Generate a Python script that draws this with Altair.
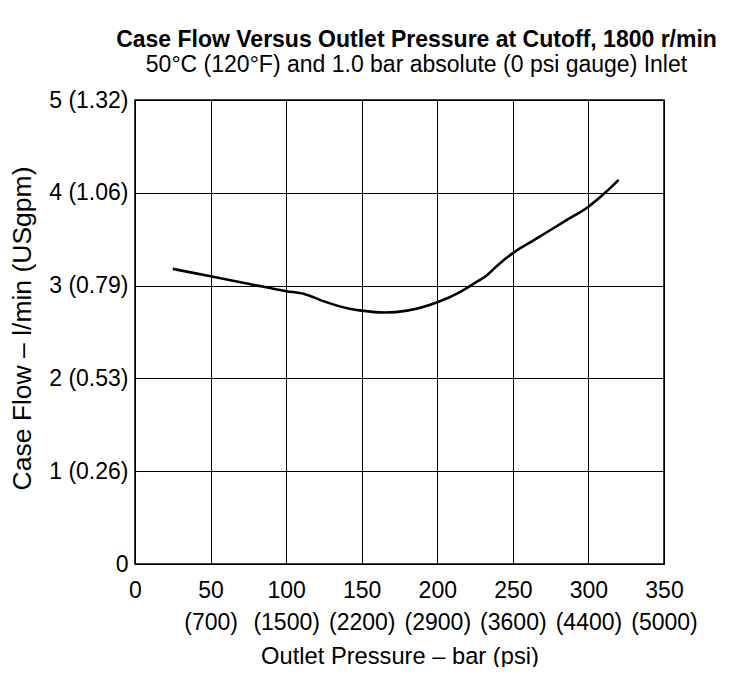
import altair as alt
import pandas as pd

# Curve: outlet pressure (bar) vs case flow (l/min)
pressure_bar = [25, 50, 75, 100, 112, 125, 142, 150, 165, 180, 200, 215, 226, 232, 240, 250, 265, 285, 300, 311, 320]
flow_lpm = [3.18, 3.10, 3.02, 2.94, 2.91, 2.83, 2.75, 2.73, 2.71, 2.73, 2.82, 2.93, 3.04, 3.10, 3.22, 3.35, 3.50, 3.70, 3.85, 4.00, 4.14]

# Axis ticks and their secondary-unit labels
x_ticks = [0, 50, 100, 150, 200, 250, 300, 350]
x_psi = ["", "700", "1500", "2200", "2900", "3600", "4400", "5000"]
y_ticks = [0, 1, 2, 3, 4, 5]
y_gpm = ["", "0.26", "0.53", "0.79", "1.06", "1.32"]

title_text = "Case Flow Versus Outlet Pressure at Cutoff, 1800 r/min"
subtitle_text = "50°C (120°F) and 1.0 bar absolute (0 psi gauge) Inlet"
x_title = "Outlet Pressure – bar (psi)"
y_title = "Case Flow – l/min (USgpm)"

df = pd.DataFrame({"p": pressure_bar, "q": flow_lpm})

psi_arr = "[" + ",".join("'" + s + "'" for s in x_psi) + "]"
gpm_arr = "[" + ",".join("'" + s + "'" for s in y_gpm) + "]"

x_label_expr = f"datum.value == 0 ? '0' : [datum.label, '(' + {psi_arr}[round(datum.value / 50)] + ')']"
y_label_expr = f"datum.value == 0 ? '0' : datum.label + ' (' + {gpm_arr}[round(datum.value)] + ')'"

FONT = "Liberation Sans"
FS = 23

W, H = 529, 464
PL, PT = 127, 92

chart = alt.Chart(df).mark_line(
    color="black", strokeWidth=2.6, interpolate="monotone"
).encode(
    x=alt.X("p:Q", scale=alt.Scale(domain=[0, 350], nice=False),
            axis=alt.Axis(values=x_ticks, title=x_title, labelExpr=x_label_expr,
                          labelPadding=15, labelLineHeight=32, titlePadding=10,
                          titleFontSize=23.7,
                          labelFlush=False, labelOverlap=False)),
    y=alt.Y("q:Q", scale=alt.Scale(domain=[0, 5], nice=False),
            axis=alt.Axis(values=y_ticks, title=y_title, labelExpr=y_label_expr,
                          labelPadding=7, titleX=22 - 135, titleY=H / 2 - 4,
                          titleFontSize=26.5,
                          titleAngle=-90, titleBaseline="middle", titleAlign="center",
                          labelFlush=False, labelOverlap=False)),
).properties(
    width=W, height=H,
    background="white",
    title=alt.TitleParams(
        text=title_text, subtitle=subtitle_text,
        font=FONT, fontSize=23, fontWeight="bold", color="black",
        subtitleFont=FONT, subtitleFontSize=23, subtitleColor="black",
        subtitlePadding=2, anchor="middle", dx=17, offset=12,
    ),
    autosize=alt.AutoSizeParams(type="none"),
    padding={"left": PL, "top": PT, "right": 730 - 16 - PL - W, "bottom": 675 - 16 - PT - H},
).configure_view(
    stroke="black", strokeWidth=1.5
).configure_axis(
    grid=True, gridColor="black", gridOpacity=1, gridWidth=1,
    ticks=False, domain=False,
    labelFont=FONT, labelFontSize=FS, labelColor="black",
    titleFont=FONT, titleFontSize=FS, titleFontWeight="normal", titleColor="black",
)

chart.save("out.html", embed_options={"renderer": "svg", "actions": False})
